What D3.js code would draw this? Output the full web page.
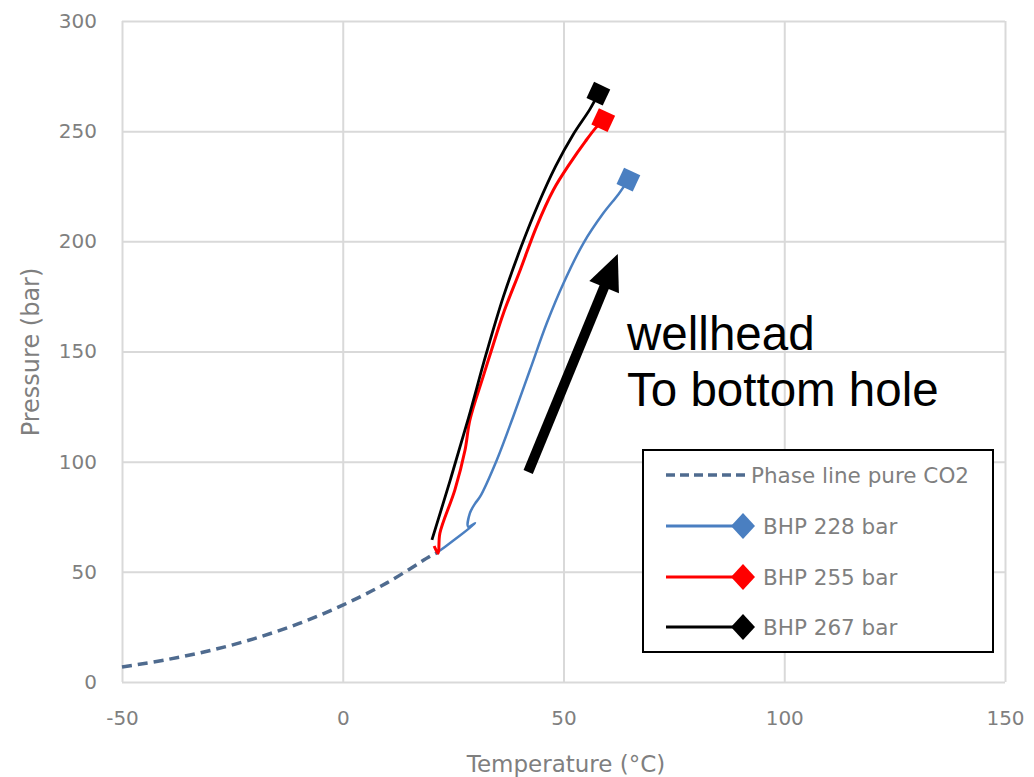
<!DOCTYPE html>
<html>
<head>
<meta charset="utf-8">
<style>
body { margin: 0; background: #fff; }
text { font-family: "DejaVu Sans", sans-serif; }
</style>
</head>
<body>
<div id="chart"></div>
<script src="https://cdn.jsdelivr.net/npm/d3@7"></script>
<script>
// axis ticks
var xTicks = [-50, 0, 50, 100, 150];
var yTicks = [0, 50, 100, 150, 200, 250, 300];

// phase line of pure CO2 (temperature, pressure)
var phaseT = [-50, -40, -30, -20, -10, 0, 10, 20, 21.4];
var phaseP = [6.8, 10.1, 14.3, 19.7, 26.5, 34.9, 45.0, 57.3, 58.7];

// BHP 228 bar
var blueT = [21.2, 23.2, 30.0, 28.4, 28.8, 30.0, 31.1, 34.9, 38.6, 42.4, 46.2, 50.0, 54.5, 59.0, 62.5, 64.7];
var blueP = [58.6, 61.4, 72.0, 70.5, 76.6, 81.1, 84.1, 100.8, 120.4, 141.6, 162.8, 181.0, 199.1, 212.7, 221.5, 228];

// BHP 255 bar
var redT = [20.7, 21.6, 22.0, 25.4, 27.7, 28.8, 31.8, 33.7, 36.4, 40.2, 43.9, 47.7, 51.5, 55.0, 57.3, 59.0];
var redP = [61.7, 58.4, 67.5, 87.2, 105.3, 118.9, 138.6, 150.7, 167.4, 187.0, 206.7, 223.3, 235.5, 245.5, 251.5, 255];

// BHP 267 bar
var blackT = [20.2, 24.4, 28.5, 32.5, 36.4, 40.4, 44.2, 48.2, 52.2, 56.0, 57.9];
var blackP = [64.5, 92.0, 120.0, 149.0, 175.0, 197.5, 216.5, 234.0, 248.5, 260.0, 267];

var seriesNames = ["Phase line pure CO2", "BHP 228 bar", "BHP 255 bar", "BHP 267 bar"];
var seriesColors = ["#4f6b8f", "#4a7fc1", "#ff0000", "#000000"];

// annotation arrow (data units) and text
var arrowFrom = [42.0, 95.3];
var arrowTo = [62.3, 194.3];
var noteAt = [64.4, 150.7];
var noteLines = ["wellhead", "To bottom hole"];

var width = 1034, height = 777;
var svg = d3.select("#chart").append("svg")
    .attr("width", width)
    .attr("height", height);

var x = d3.scaleLinear().domain([-50, 150]).range([122, 1005]);
var y = d3.scaleLinear().domain([0, 300]).range([682, 21]);

// gridlines
svg.append("g")
    .attr("transform", "translate(0," + y(0) + ")")
    .call(d3.axisBottom(x).tickValues(xTicks).tickSize(-(y(0) - y(300))).tickFormat(""))
    .call(function (g) { g.select(".domain").remove(); })
    .selectAll("line").attr("stroke", "#d9d9d9").attr("stroke-width", 2);

svg.append("g")
    .attr("transform", "translate(" + x(-50) + ",0)")
    .call(d3.axisLeft(y).tickValues(yTicks).tickSize(-(x(150) - x(-50))).tickFormat(""))
    .call(function (g) { g.select(".domain").remove(); })
    .selectAll("line").attr("stroke", "#d9d9d9").attr("stroke-width", 2);

// tick labels
var xAxis = svg.append("g")
    .attr("transform", "translate(0," + y(0) + ")")
    .call(d3.axisBottom(x).tickValues(xTicks).tickSize(0).tickPadding(29).tickFormat(String));
xAxis.select(".domain").remove();
xAxis.selectAll("text").attr("fill", "#7f7f7f").style("font-size", "20px");

var yAxis = svg.append("g")
    .attr("transform", "translate(" + x(-50) + ",0)")
    .call(d3.axisLeft(y).tickValues(yTicks).tickSize(0).tickPadding(25).tickFormat(String));
yAxis.select(".domain").remove();
yAxis.selectAll("text").attr("fill", "#7f7f7f").style("font-size", "20px");

// axis titles
svg.append("text")
    .attr("x", 566).attr("y", 772)
    .attr("text-anchor", "middle")
    .attr("fill", "#7f7f7f")
    .style("font-size", "23px")
    .text("Temperature (°C)");

svg.append("text")
    .attr("transform", "translate(31,352) rotate(-90)")
    .attr("dy", "0.35em")
    .attr("text-anchor", "middle")
    .attr("fill", "#7f7f7f")
    .style("font-size", "24px")
    .text("Pressure (bar)");

function pts(ts, ps) {
    return ts.map(function (t, i) { return [t, ps[i]]; });
}

var line = d3.line()
    .x(function (d) { return x(d[0]); })
    .y(function (d) { return y(d[1]); })
    .curve(d3.curveCatmullRom.alpha(0.5));

// phase line
svg.append("path")
    .attr("d", line(pts(phaseT, phaseP)))
    .attr("fill", "none")
    .attr("stroke", seriesColors[0])
    .attr("stroke-width", 3.5)
    .attr("stroke-dasharray", "10,6");

var curves = [pts(blueT, blueP), pts(redT, redP), pts(blackT, blackP)];
var widths = [2.5, 3, 2.8];

curves.forEach(function (c, i) {
    svg.append("path")
        .attr("d", line(c))
        .attr("fill", "none")
        .attr("stroke", seriesColors[i + 1])
        .attr("stroke-width", widths[i])
        .attr("stroke-linejoin", "round");

    var last = c[c.length - 1];
    svg.append("path")
        .attr("d", d3.symbol().type(d3.symbolSquare).size(320)())
        .attr("transform", "translate(" + x(last[0]) + "," + y(last[1]) + ") rotate(25)")
        .attr("fill", seriesColors[i + 1]);
});

// arrow
var ax0 = x(arrowFrom[0]), ay0 = y(arrowFrom[1]);
var ax1 = x(arrowTo[0]), ay1 = y(arrowTo[1]);
var len = Math.hypot(ax1 - ax0, ay1 - ay0);
var ux = (ax1 - ax0) / len, uy = (ay1 - ay0) / len;
var headLen = 36, headHalf = 16;
var bx = ax1 - ux * headLen, by = ay1 - uy * headLen;

svg.append("line")
    .attr("x1", ax0).attr("y1", ay0)
    .attr("x2", bx + ux * 2).attr("y2", by + uy * 2)
    .attr("stroke", "#000")
    .attr("stroke-width", 10);

svg.append("polygon")
    .attr("points", [
        [ax1, ay1],
        [bx - uy * headHalf, by + ux * headHalf],
        [bx + uy * headHalf, by - ux * headHalf]
    ].map(function (p) { return p.join(","); }).join(" "))
    .attr("fill", "#000");

// annotation text
svg.selectAll(".note")
    .data(noteLines)
    .enter().append("text")
    .attr("class", "note")
    .attr("x", x(noteAt[0]))
    .attr("y", function (d, i) { return y(noteAt[1]) + i * 56; })
    .attr("fill", "#000")
    .style("font-family", "'Liberation Sans', Arial, sans-serif")
    .style("font-size", "47.5px")
    .text(function (d) { return d; });

// legend
var legend = svg.append("g");
legend.append("rect")
    .attr("x", 643).attr("y", 450)
    .attr("width", 350).attr("height", 202)
    .attr("fill", "#fff")
    .attr("stroke", "#000")
    .attr("stroke-width", 2);

var rowY = [475, 526, 577, 627];
seriesNames.forEach(function (name, i) {
    var ry = rowY[i];
    legend.append("line")
        .attr("x1", 666).attr("x2", i === 0 ? 745 : 740)
        .attr("y1", ry).attr("y2", ry)
        .attr("stroke", seriesColors[i])
        .attr("stroke-width", i === 0 ? 3.5 : 3)
        .attr("stroke-dasharray", i === 0 ? "9,5" : null);
    if (i > 0) {
        legend.append("path")
            .attr("d", "M0,-13L12,0L0,13L-12,0Z")
            .attr("transform", "translate(743," + ry + ")")
            .attr("fill", seriesColors[i]);
    }
    legend.append("text")
        .attr("x", i === 0 ? 751 : 763)
        .attr("y", ry)
        .attr("dy", "0.35em")
        .attr("fill", "#7f7f7f")
        .style("font-size", "21.5px")
        .text(name);
});
</script>
</body>
</html>
